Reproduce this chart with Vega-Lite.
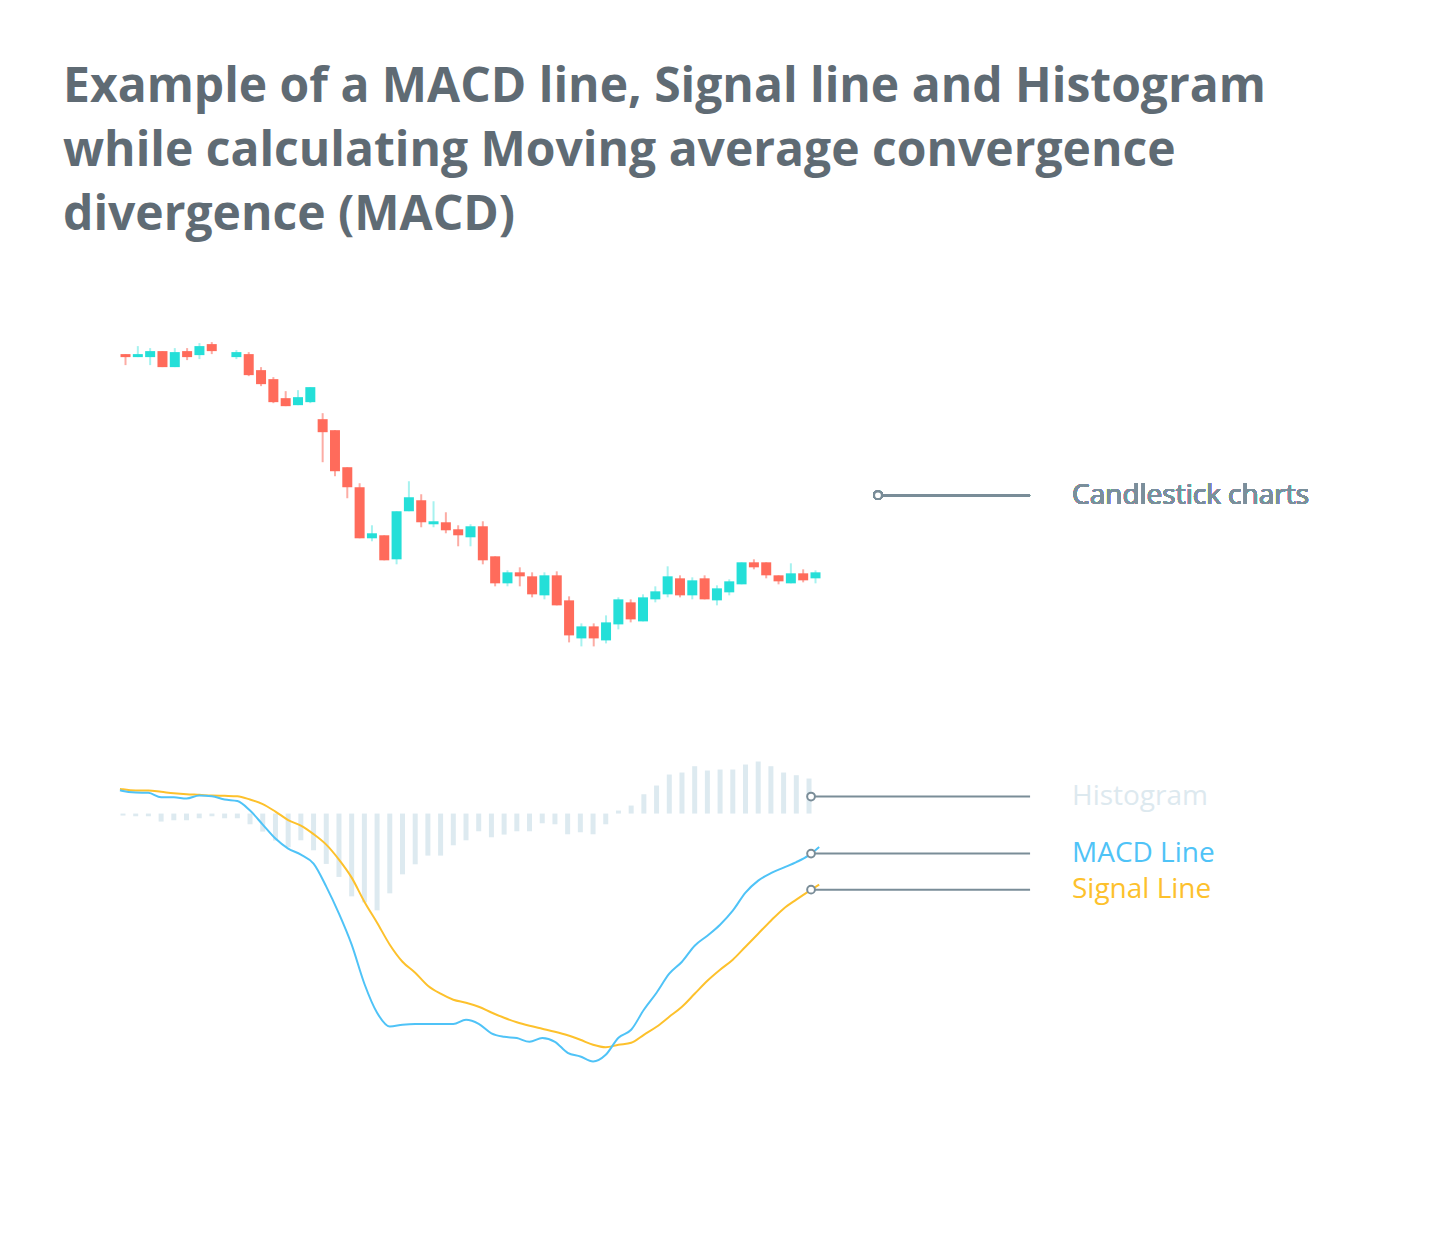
{
  "$schema": "https://vega.github.io/schema/vega-lite/v6.json",
  "width": 1454,
  "height": 1259,
  "autosize": {"type": "fit", "contains": "padding"},
  "padding": {"left": 0, "right": 0, "top": 64, "bottom": 0},
  "background": "#ffffff",
  "config": {"view": {"stroke": null}},
  "title": {
    "text": ["Example of a MACD line, Signal line and Histogram", "while calculating Moving average convergence", "divergence (MACD)"],
    "anchor": "start",
    "frame": "group",
    "dx": 63,
    "offset": 0,
    "font": "Open Sans",
    "fontSize": 48,
    "fontWeight": "bold",
    "lineHeight": 64,
    "color": "#5F6B74",
    "baseline": "top"
  },
  "datasets": {
    "candles": [
      {"i": 0, "open": 54.5, "close": 54.2, "high": 54.5, "low": 53.4},
      {"i": 1, "open": 54.2, "close": 54.5, "high": 55.3, "low": 54.2},
      {"i": 2, "open": 54.2, "close": 54.8, "high": 55.1, "low": 53.4},
      {"i": 3, "open": 54.8, "close": 53.2, "high": 54.8, "low": 53.2},
      {"i": 4, "open": 53.2, "close": 54.7, "high": 55.1, "low": 53.2},
      {"i": 5, "open": 54.8, "close": 54.2, "high": 55.1, "low": 53.9},
      {"i": 6, "open": 54.4, "close": 55.3, "high": 55.6, "low": 54.0},
      {"i": 7, "open": 55.5, "close": 54.8, "high": 55.7, "low": 54.5},
      {"i": 9, "open": 54.2, "close": 54.7, "high": 54.9, "low": 54.0},
      {"i": 10, "open": 54.5, "close": 52.4, "high": 54.7, "low": 52.3},
      {"i": 11, "open": 52.9, "close": 51.5, "high": 53.2, "low": 51.3},
      {"i": 12, "open": 52.0, "close": 49.7, "high": 52.2, "low": 49.6},
      {"i": 13, "open": 50.1, "close": 49.3, "high": 50.8, "low": 49.3},
      {"i": 14, "open": 49.4, "close": 50.2, "high": 50.9, "low": 49.4},
      {"i": 15, "open": 49.7, "close": 51.2, "high": 51.2, "low": 49.6},
      {"i": 16, "open": 48.0, "close": 46.7, "high": 48.6, "low": 43.7},
      {"i": 17, "open": 46.9, "close": 42.8, "high": 46.9, "low": 42.3},
      {"i": 18, "open": 43.2, "close": 41.2, "high": 43.2, "low": 40.1},
      {"i": 19, "open": 41.2, "close": 36.1, "high": 41.6, "low": 36.1},
      {"i": 20, "open": 36.1, "close": 36.6, "high": 37.4, "low": 35.8},
      {"i": 21, "open": 36.4, "close": 33.9, "high": 36.4, "low": 33.9},
      {"i": 22, "open": 34.0, "close": 38.8, "high": 38.8, "low": 33.5},
      {"i": 23, "open": 38.8, "close": 40.2, "high": 41.8, "low": 38.8},
      {"i": 24, "open": 39.9, "close": 37.7, "high": 40.5, "low": 37.2},
      {"i": 25, "open": 37.5, "close": 37.8, "high": 39.8, "low": 37.2},
      {"i": 26, "open": 37.7, "close": 36.9, "high": 38.7, "low": 36.6},
      {"i": 27, "open": 37.0, "close": 36.4, "high": 37.4, "low": 35.3},
      {"i": 28, "open": 36.2, "close": 37.3, "high": 37.5, "low": 35.3},
      {"i": 29, "open": 37.3, "close": 33.9, "high": 37.8, "low": 33.5},
      {"i": 30, "open": 34.3, "close": 31.6, "high": 34.3, "low": 31.3},
      {"i": 31, "open": 31.6, "close": 32.7, "high": 32.9, "low": 31.3},
      {"i": 32, "open": 32.7, "close": 32.3, "high": 33.2, "low": 31.3},
      {"i": 33, "open": 32.3, "close": 30.5, "high": 32.7, "low": 30.2},
      {"i": 34, "open": 30.4, "close": 32.4, "high": 32.7, "low": 30.0},
      {"i": 35, "open": 32.4, "close": 29.4, "high": 32.8, "low": 29.4},
      {"i": 36, "open": 29.9, "close": 26.4, "high": 30.3, "low": 25.7},
      {"i": 37, "open": 26.1, "close": 27.3, "high": 27.6, "low": 25.3},
      {"i": 38, "open": 27.3, "close": 26.1, "high": 27.6, "low": 25.3},
      {"i": 39, "open": 25.9, "close": 27.7, "high": 28.4, "low": 25.6},
      {"i": 40, "open": 27.5, "close": 30.0, "high": 30.2, "low": 27.0},
      {"i": 41, "open": 29.7, "close": 28.0, "high": 30.0, "low": 27.7},
      {"i": 42, "open": 27.8, "close": 30.2, "high": 30.5, "low": 27.8},
      {"i": 43, "open": 30.0, "close": 30.8, "high": 31.3, "low": 29.7},
      {"i": 44, "open": 30.5, "close": 32.3, "high": 33.3, "low": 30.2},
      {"i": 45, "open": 32.1, "close": 30.4, "high": 32.4, "low": 30.2},
      {"i": 46, "open": 30.4, "close": 31.9, "high": 32.2, "low": 30.0},
      {"i": 47, "open": 32.1, "close": 30.0, "high": 32.4, "low": 30.0},
      {"i": 48, "open": 29.9, "close": 31.1, "high": 31.4, "low": 29.4},
      {"i": 49, "open": 30.7, "close": 31.8, "high": 32.0, "low": 30.4},
      {"i": 50, "open": 31.5, "close": 33.7, "high": 33.7, "low": 31.5},
      {"i": 51, "open": 33.7, "close": 33.2, "high": 34.0, "low": 33.0},
      {"i": 52, "open": 33.7, "close": 32.4, "high": 33.7, "low": 32.1},
      {"i": 53, "open": 32.4, "close": 31.8, "high": 32.4, "low": 31.5},
      {"i": 54, "open": 31.6, "close": 32.6, "high": 33.6, "low": 31.6},
      {"i": 55, "open": 32.6, "close": 31.9, "high": 33.0, "low": 31.7},
      {"i": 56, "open": 32.1, "close": 32.7, "high": 32.9, "low": 31.6}
    ],
    "macd": [
      {"t": -0.24, "macd": 0.233, "signal": 0.247},
      {"t": 0, "hist": -0.02, "macd": 0.225, "signal": 0.242},
      {"t": 1, "hist": -0.027, "macd": 0.21, "signal": 0.23},
      {"t": 2, "hist": -0.027, "macd": 0.207, "signal": 0.23},
      {"t": 3, "hist": -0.08, "macd": 0.163, "signal": 0.217},
      {"t": 4, "hist": -0.067, "macd": 0.163, "signal": 0.203},
      {"t": 5, "hist": -0.067, "macd": 0.15, "signal": 0.193},
      {"t": 6, "hist": -0.047, "macd": 0.18, "signal": 0.187},
      {"t": 7, "hist": -0.027, "macd": 0.173, "signal": 0.18},
      {"t": 8, "hist": -0.047, "macd": 0.14, "signal": 0.177},
      {"t": 9, "hist": -0.047, "macd": 0.125, "signal": 0.173},
      {"t": 10, "hist": -0.107, "macd": 0.03, "signal": 0.14},
      {"t": 11, "hist": -0.18, "macd": -0.11, "signal": 0.095},
      {"t": 12, "hist": -0.27, "macd": -0.25, "signal": 0.02},
      {"t": 13, "hist": -0.337, "macd": -0.35, "signal": -0.065},
      {"t": 14, "hist": -0.267, "macd": -0.41, "signal": -0.12},
      {"t": 15, "hist": -0.367, "macd": -0.5, "signal": -0.205},
      {"t": 16, "hist": -0.503, "macd": -0.73, "signal": -0.31},
      {"t": 17, "hist": -0.633, "macd": -1.0, "signal": -0.46},
      {"t": 18, "hist": -0.827, "macd": -1.31, "signal": -0.64},
      {"t": 19, "hist": -0.887, "macd": -1.7, "signal": -0.88},
      {"t": 20, "hist": -0.967, "macd": -1.99, "signal": -1.09},
      {"t": 21, "hist": -0.797, "macd": -2.127, "signal": -1.31},
      {"t": 22, "hist": -0.607, "macd": -2.11, "signal": -1.48},
      {"t": 23, "hist": -0.507, "macd": -2.103, "signal": -1.59},
      {"t": 24, "hist": -0.42, "macd": -2.103, "signal": -1.72},
      {"t": 25, "hist": -0.42, "macd": -2.103, "signal": -1.8},
      {"t": 26, "hist": -0.317, "macd": -2.103, "signal": -1.86},
      {"t": 27, "hist": -0.267, "macd": -2.06, "signal": -1.89},
      {"t": 28, "hist": -0.177, "macd": -2.1, "signal": -1.93},
      {"t": 29, "hist": -0.237, "macd": -2.195, "signal": -1.987},
      {"t": 30, "hist": -0.21, "macd": -2.23, "signal": -2.04},
      {"t": 31, "hist": -0.177, "macd": -2.243, "signal": -2.085},
      {"t": 32, "hist": -0.177, "macd": -2.28, "signal": -2.12},
      {"t": 33, "hist": -0.097, "macd": -2.243, "signal": -2.15},
      {"t": 34, "hist": -0.107, "macd": -2.28, "signal": -2.18},
      {"t": 35, "hist": -0.207, "macd": -2.39, "signal": -2.215},
      {"t": 36, "hist": -0.187, "macd": -2.427, "signal": -2.26},
      {"t": 37, "hist": -0.207, "macd": -2.477, "signal": -2.31},
      {"t": 38, "hist": -0.107, "macd": -2.41, "signal": -2.335},
      {"t": 39, "hist": 0.03, "macd": -2.24, "signal": -2.31},
      {"t": 40, "hist": 0.08, "macd": -2.16, "signal": -2.29},
      {"t": 41, "hist": 0.193, "macd": -1.96, "signal": -2.21},
      {"t": 42, "hist": 0.28, "macd": -1.79, "signal": -2.13},
      {"t": 43, "hist": 0.39, "macd": -1.6, "signal": -2.03},
      {"t": 44, "hist": 0.41, "macd": -1.48, "signal": -1.93},
      {"t": 45, "hist": 0.473, "macd": -1.32, "signal": -1.8},
      {"t": 46, "hist": 0.43, "macd": -1.22, "signal": -1.67},
      {"t": 47, "hist": 0.44, "macd": -1.11, "signal": -1.56},
      {"t": 48, "hist": 0.44, "macd": -0.97, "signal": -1.46},
      {"t": 49, "hist": 0.49, "macd": -0.79, "signal": -1.33},
      {"t": 50, "hist": 0.52, "macd": -0.67, "signal": -1.2},
      {"t": 51, "hist": 0.473, "macd": -0.595, "signal": -1.07},
      {"t": 52, "hist": 0.41, "macd": -0.54, "signal": -0.95},
      {"t": 53, "hist": 0.383, "macd": -0.485, "signal": -0.86},
      {"t": 54, "hist": 0.35, "macd": -0.415, "signal": -0.775},
      {"t": 54.8, "macd": -0.333, "signal": -0.71}
    ]
  },
  "layer": [
    {
      "data": {"name": "candles"},
      "layer": [
        {
          "mark": {"type": "rule", "strokeWidth": 2},
          "encoding": {
            "x": {"field": "i", "type": "quantitative", "scale": {"domain": [-10.186, 107.82], "nice": false, "zero": false}, "axis": null},
            "y": {"field": "low", "type": "quantitative", "scale": {"domain": [-35.9, 65.9], "nice": false, "zero": false}, "axis": null},
            "y2": {"field": "high"},
            "color": {"condition": {"test": "datum.open < datum.close", "value": "#A6F2EF"}, "value": "#FCACA4"}
          }
        },
        {
          "mark": {"type": "rule", "strokeWidth": 10},
          "encoding": {
            "x": {"field": "i", "type": "quantitative", "scale": {"domain": [-10.186, 107.82], "nice": false, "zero": false}, "axis": null},
            "y": {"field": "open", "type": "quantitative", "scale": {"domain": [-35.9, 65.9], "nice": false, "zero": false}, "axis": null},
            "y2": {"field": "close"},
            "color": {"condition": {"test": "datum.open < datum.close", "value": "#24DFD8"}, "value": "#FF6B5B"}
          }
        },
        {
          "mark": {"type": "rule", "strokeWidth": 2, "color": "#7A8D98"},
          "encoding": {
            "x": {"datum": 61.07, "type": "quantitative", "scale": {"domain": [-10.186, 107.82], "nice": false, "zero": false}, "axis": null},
            "x2": {"datum": 73.41},
            "y": {"datum": 40.4, "type": "quantitative", "scale": {"domain": [-35.9, 65.9], "nice": false, "zero": false}, "axis": null}
          }
        },
        {
          "mark": {"type": "point", "filled": true, "fill": "#ffffff", "stroke": "#7A8D98", "strokeWidth": 2, "size": 60, "opacity": 1},
          "encoding": {
            "x": {"datum": 61.07, "type": "quantitative", "scale": {"domain": [-10.186, 107.82], "nice": false, "zero": false}, "axis": null},
            "y": {"datum": 40.4, "type": "quantitative", "scale": {"domain": [-35.9, 65.9], "nice": false, "zero": false}, "axis": null}
          }
        },
        {
          "mark": {"type": "text", "align": "left", "baseline": "middle", "font": "Open Sans", "fontSize": 28, "color": "#7A8F9C"},
          "encoding": {
            "x": {"datum": 76.82, "type": "quantitative", "scale": {"domain": [-10.186, 107.82], "nice": false, "zero": false}, "axis": null},
            "y": {"datum": 40.3, "type": "quantitative", "scale": {"domain": [-35.9, 65.9], "nice": false, "zero": false}, "axis": null},
            "text": {"value": "Candlestick charts"}
          }
        }
      ]
    },
    {
      "data": {"name": "macd"},
      "layer": [
        {
          "transform": [{"filter": "isValid(datum.hist)"}],
          "mark": {"type": "rule", "strokeWidth": 5, "color": "#DDEAF0"},
          "encoding": {
            "x": {"field": "t", "type": "quantitative", "scale": {"domain": [-9.682, 104.77], "nice": false, "zero": false}, "axis": null},
            "y": {"field": "hist", "type": "quantitative", "scale": {"domain": [-4.45, 5.73], "nice": false, "zero": false}, "axis": null},
            "y2": {"datum": 0}
          }
        },
        {
          "mark": {"type": "line", "strokeWidth": 2, "color": "#FDC12C", "interpolate": "monotone"},
          "encoding": {
            "x": {"field": "t", "type": "quantitative", "scale": {"domain": [-9.682, 104.77], "nice": false, "zero": false}, "axis": null},
            "y": {"field": "signal", "type": "quantitative", "scale": {"domain": [-4.45, 5.73], "nice": false, "zero": false}, "axis": null}
          }
        },
        {
          "mark": {"type": "line", "strokeWidth": 2, "color": "#4FC3F7", "interpolate": "monotone"},
          "encoding": {
            "x": {"field": "t", "type": "quantitative", "scale": {"domain": [-9.682, 104.77], "nice": false, "zero": false}, "axis": null},
            "y": {"field": "macd", "type": "quantitative", "scale": {"domain": [-4.45, 5.73], "nice": false, "zero": false}, "axis": null}
          }
        },
        {
          "data": {"values": [{"series": "Histogram", "v": 0.17, "color": "#DDE9EF"}, {"series": "MACD Line", "v": -0.4, "color": "#4FC3F7"}, {"series": "Signal Line", "v": -0.76, "color": "#FDC12C"}]},
          "layer": [
            {
              "mark": {"type": "rule", "strokeWidth": 2, "color": "#7A8D98"},
              "encoding": {
                "x": {"datum": 54.16, "type": "quantitative", "scale": {"domain": [-9.682, 104.77], "nice": false, "zero": false}, "axis": null},
                "x2": {"datum": 71.4},
                "y": {"field": "v", "type": "quantitative", "scale": {"domain": [-4.45, 5.73], "nice": false, "zero": false}, "axis": null}
              }
            },
            {
              "mark": {"type": "point", "filled": true, "fill": "#ffffff", "stroke": "#7A8D98", "strokeWidth": 2, "size": 60, "opacity": 1},
              "encoding": {
                "x": {"datum": 54.16, "type": "quantitative", "scale": {"domain": [-9.682, 104.77], "nice": false, "zero": false}, "axis": null},
                "y": {"field": "v", "type": "quantitative", "scale": {"domain": [-4.45, 5.73], "nice": false, "zero": false}, "axis": null}
              }
            },
            {
              "mark": {"type": "text", "align": "left", "baseline": "middle", "font": "Open Sans", "fontSize": 28},
              "encoding": {
                "x": {"datum": 74.7, "type": "quantitative", "scale": {"domain": [-9.682, 104.77], "nice": false, "zero": false}, "axis": null},
                "y": {"field": "v", "type": "quantitative", "scale": {"domain": [-4.45, 5.73], "nice": false, "zero": false}, "axis": null},
                "text": {"field": "series"},
                "color": {"field": "color", "type": "nominal", "scale": null}
              }
            }
          ]
        }
      ]
    }
  ],
  "resolve": {"scale": {"x": "independent", "y": "independent"}}
}
